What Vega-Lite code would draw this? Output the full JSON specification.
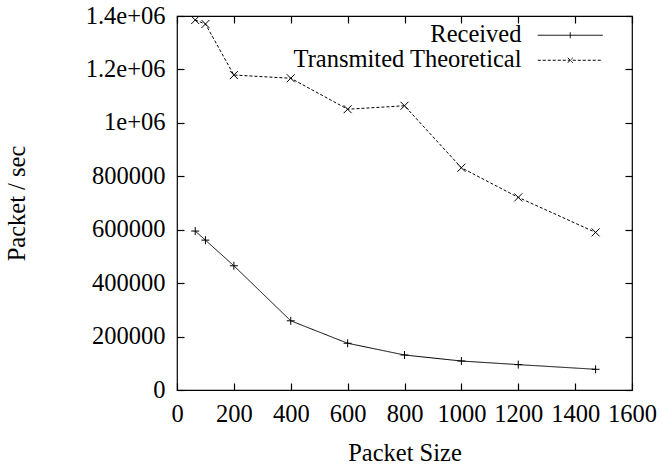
{
  "$schema": "https://vega.github.io/schema/vega-lite/v6.json",
  "width": 455,
  "height": 374,
  "autosize": {"type": "none"},
  "padding": {"left": 177, "top": 16, "right": 30, "bottom": 78},
  "background": "white",
  "config": {
    "font": "Liberation Serif",
    "view": {"stroke": "black", "strokeWidth": 1.2},
    "axis": {
      "labelFont": "Liberation Serif", "titleFont": "Liberation Serif",
      "labelFontSize": 24.5, "titleFontSize": 24.5,
      "labelColor": "black", "titleColor": "black",
      "titleFontWeight": "normal", "domain": false, "grid": false,
      "tickColor": "black", "tickSize": 7, "offset": -7, "tickWidth": 1.2
    },
    "legend": {"labelFont": "Liberation Serif", "labelFontSize": 24.5, "labelColor": "black"}
  },
  "data": {
    "values": [
      {"size": 64, "pps": 595000, "series": "Received"},
      {"size": 100, "pps": 561000, "series": "Received"},
      {"size": 200, "pps": 465000, "series": "Received"},
      {"size": 400, "pps": 259000, "series": "Received"},
      {"size": 600, "pps": 175000, "series": "Received"},
      {"size": 800, "pps": 131000, "series": "Received"},
      {"size": 1000, "pps": 108500, "series": "Received"},
      {"size": 1200, "pps": 95000, "series": "Received"},
      {"size": 1472, "pps": 77500, "series": "Received"},
      {"size": 64, "pps": 1385000, "series": "Transmited Theoretical"},
      {"size": 100, "pps": 1370000, "series": "Transmited Theoretical"},
      {"size": 200, "pps": 1179000, "series": "Transmited Theoretical"},
      {"size": 400, "pps": 1167000, "series": "Transmited Theoretical"},
      {"size": 600, "pps": 1051000, "series": "Transmited Theoretical"},
      {"size": 800, "pps": 1064000, "series": "Transmited Theoretical"},
      {"size": 1000, "pps": 832000, "series": "Transmited Theoretical"},
      {"size": 1200, "pps": 721000, "series": "Transmited Theoretical"},
      {"size": 1472, "pps": 590000, "series": "Transmited Theoretical"}
    ]
  },
  "layer": [
    {
      "mark": {"type": "line", "color": "black", "strokeWidth": 1},
      "encoding": {
        "x": {"field": "size", "type": "quantitative", "scale": {"domain": [0, 1600], "nice": false},
              "axis": {"title": "Packet Size", "values": [0,200,400,600,800,1000,1200,1400,1600], "format": "d",
                       "labelFontSize": 24.5, "titleFontSize": 24.5, "labelPadding": 12, "titlePadding": 16, "labelFlush": false}},
        "y": {"field": "pps", "type": "quantitative", "scale": {"domain": [0, 1400000], "nice": false},
              "axis": {"title": "Packet / sec", "values": [0,200000,400000,600000,800000,1000000,1200000,1400000],
                       "labelFontSize": 24.5, "titleFontSize": 24.5,
                       "labelPadding": 12, "titlePadding": 56, "labelFlush": false,
                       "labelExpr": "datum.value >= 1000000 ? (datum.value == 1000000 ? '1e+06' : format(datum.value/1000000, '.1f') + 'e+06') : format(datum.value, 'd')"}},
        "strokeDash": {"field": "series", "type": "nominal",
          "scale": {"domain": ["Received", "Transmited Theoretical"], "range": [[1, 0], [3, 2]]},
          "legend": {"title": null, "orient": "none", "legendX": 381, "legendY": 7, "symbolSize": 400,
                     "symbolStrokeColor": "black", "symbolStrokeWidth": 1, "labelLimit": 0,
                     "labelFontSize": 24.5,
                     "labelAlign": "right", "labelOffset": -61, "rowPadding": 0,
                     "encode": {"symbols": {"update": {"shape": {"signal": "datum.value === 'Received' ? 'M-3.25,0H3.25M0,-0.3V0.3' : 'M-3.25,0H3.25M-0.25,-0.25L0.25,0.25M-0.25,0.25L0.25,-0.25'"}}}}}}
      }
    },
    {
      "mark": {"type": "point", "filled": false, "color": "black", "strokeWidth": 1, "size": 64, "opacity": 1},
      "encoding": {
        "x": {"field": "size", "type": "quantitative", "axis": {"orient": "top", "labels": false, "title": null, "values": [0,200,400,600,800,1000,1200,1400,1600]}},
        "y": {"field": "pps", "type": "quantitative", "axis": {"orient": "right", "labels": false, "title": null, "values": [0,200000,400000,600000,800000,1000000,1200000,1400000]}},
        "shape": {"condition": {"test": "datum.series === 'Received'", "value": "M-1,0H1M0,-1V1"}, "value": "M-1,-1L1,1M-1,1L1,-1"}
      }
    }
  ],
  "resolve": {"axis": {"x": "independent", "y": "independent"}}
}
